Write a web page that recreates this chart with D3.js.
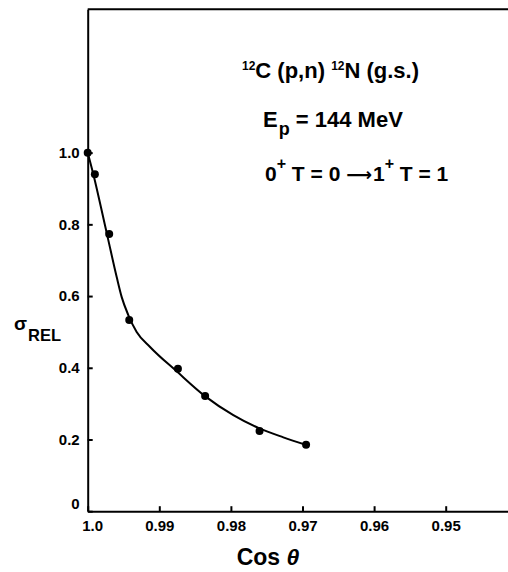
<!DOCTYPE html>
<html>
<head>
<meta charset="utf-8">
<script src="https://cdn.jsdelivr.net/npm/d3@7"></script>
<style>
    body { margin: 0; background: #fff; }
    svg { display: block; }
    .axis path, .axis line { stroke: #000; stroke-width: 2; }
    .axis text { font-family: "Liberation Sans", Arial, sans-serif; font-weight: bold; font-size: 15px; fill: #000; }
    .note { font-family: "Liberation Sans", Arial, sans-serif; font-weight: bold; fill: #000; }
</style>
</head>
<body>
<svg id="chart"></svg>
<script>
// measured points (cos theta, relative cross section)
const cosTheta = [1.0, 0.999, 0.997, 0.9942, 0.9874, 0.9836, 0.976, 0.9695];
const sigmaRel = [1.0, 0.94, 0.773, 0.533, 0.397, 0.321, 0.224, 0.185];

// hand drawn curve
const curveCos = [1.0, 0.99912, 0.99814, 0.99712, 0.99595, 0.99525, 0.99433, 0.99316, 0.99129, 0.98757, 0.98362, 0.97966, 0.97603, 0.97268, 0.96951];
const curveSigma = [1.0, 0.932, 0.847, 0.756, 0.653, 0.597, 0.547, 0.500, 0.458, 0.390, 0.321, 0.268, 0.231, 0.206, 0.185];

// ticks
const xTickValues = [1.0, 0.99, 0.98, 0.97, 0.96, 0.95];
const xTickLabels = ["1.0", "0.99", "0.98", "0.97", "0.96", "0.95"];
const yTickValues = [0, 0.2, 0.4, 0.6, 0.8, 1.0];
const yTickLabels = ["0", "0.2", "0.4", "0.6", "0.8", "1.0"];

// Setup the margins and height, width
const margin = { top: 9.2, left: 87.7 };
const width = 429.6;
const height = 502;

const svg = d3.select('#chart')
    .attr('width', 508)
    .attr('height', 572);

const g = svg.append('g')
    .attr('transform', 'translate(' + margin.left + ',' + margin.top + ')');

const x = d3.scaleLinear().domain([1.0, 0.94]).range([0, width]);
const y = d3.scaleLinear().domain([0, 1.4]).range([height, 0]);

// frame: top edge (right edge runs off the page)
g.append('line')
    .attr('x1', 0).attr('x2', width)
    .attr('y1', 0).attr('y2', 0)
    .style('stroke', '#000').style('stroke-width', 2);

// Add the X Axis
const xAxis = d3.axisBottom(x)
    .tickValues(xTickValues)
    .tickFormat((d, i) => xTickLabels[i])
    .tickSizeInner(-5)
    .tickSizeOuter(0)
    .tickPadding(9);

g.append('g')
    .attr('class', 'x axis')
    .attr('transform', 'translate(0,' + height + ')')
    .call(xAxis);

// Add the Y Axis
const yAxis = d3.axisLeft(y)
    .tickValues(yTickValues)
    .tickFormat((d, i) => yTickLabels[i])
    .tickSizeInner(-5)
    .tickSizeOuter(0)
    .tickPadding(8);

g.append('g')
    .attr('class', 'y axis')
    .call(yAxis);

// the "0" label sits a little above the axis in the original
g.selectAll('.y.axis .tick text').filter(d => d === 0).attr('dy', '-0.2em');
// "1.0" is drawn just right of the corner
g.selectAll('.x.axis .tick text').filter(d => d === 1.0).attr('dx', '0.3em');

// Create the line
const line = d3.line()
    .x(d => x(d[0]))
    .y(d => y(d[1]))
    .curve(d3.curveMonotoneX);

g.append('path')
    .datum(d3.zip(curveCos, curveSigma))
    .attr('d', line)
    .style('stroke', '#000')
    .style('stroke-width', 2)
    .style('fill', 'none');

// data points
g.selectAll('circle.pt')
    .data(d3.zip(cosTheta, sigmaRel))
    .join('circle')
    .attr('class', 'pt')
    .attr('cx', d => x(d[0]))
    .attr('cy', d => y(d[1]))
    .attr('r', 4)
    .style('fill', '#000');

// annotation block
const t1 = svg.append('text').attr('class', 'note')
    .attr('x', 242).attr('y', 78).style('font-size', '22px');
t1.append('tspan').text('12').style('font-size', '12px').attr('dy', -8);
t1.append('tspan').text('C (p,n) ').attr('dy', 8);
t1.append('tspan').text('12').style('font-size', '12px').attr('dy', -8);
t1.append('tspan').text('N (g.s.)').attr('dy', 8);

const t2 = svg.append('text').attr('class', 'note')
    .attr('x', 263).attr('y', 127).style('font-size', '22px');
t2.append('tspan').text('E');
t2.append('tspan').text('p').style('font-size', '18px').attr('dy', 8).attr('dx', 1);
t2.append('tspan').text(' = 144 MeV').attr('dy', -8);

const t3 = svg.append('text').attr('class', 'note')
    .attr('x', 265).attr('y', 181).style('font-size', '21px');
t3.append('tspan').text('0');
t3.append('tspan').text('+').style('font-size', '16px').attr('dy', -12);
t3.append('tspan').text(' T = 0 ').attr('dy', 12);
t3.append('tspan').text('\u27f6').style('font-family', '"DejaVu Sans", sans-serif').style('font-size', '18px');
t3.append('tspan').text('1').attr('dx', 1);
t3.append('tspan').text('+').style('font-size', '16px').attr('dy', -12);
t3.append('tspan').text(' T = 1').attr('dy', 12);

// y axis title
const yt = svg.append('text').attr('class', 'note')
    .attr('x', 14).attr('y', 330);
yt.append('tspan').text('\u03c3').style('font-size', '19px');
yt.append('tspan').text('REL').style('font-size', '16.5px').attr('dy', 11).attr('dx', 1);

// x axis title
const xt = svg.append('text').attr('class', 'note')
    .attr('x', 268).attr('y', 565)
    .attr('text-anchor', 'middle')
    .style('font-size', '23px');
xt.append('tspan').text('Cos ');
xt.append('tspan').text('\u03b8').style('font-style', 'italic');
</script>
</body>
</html>
